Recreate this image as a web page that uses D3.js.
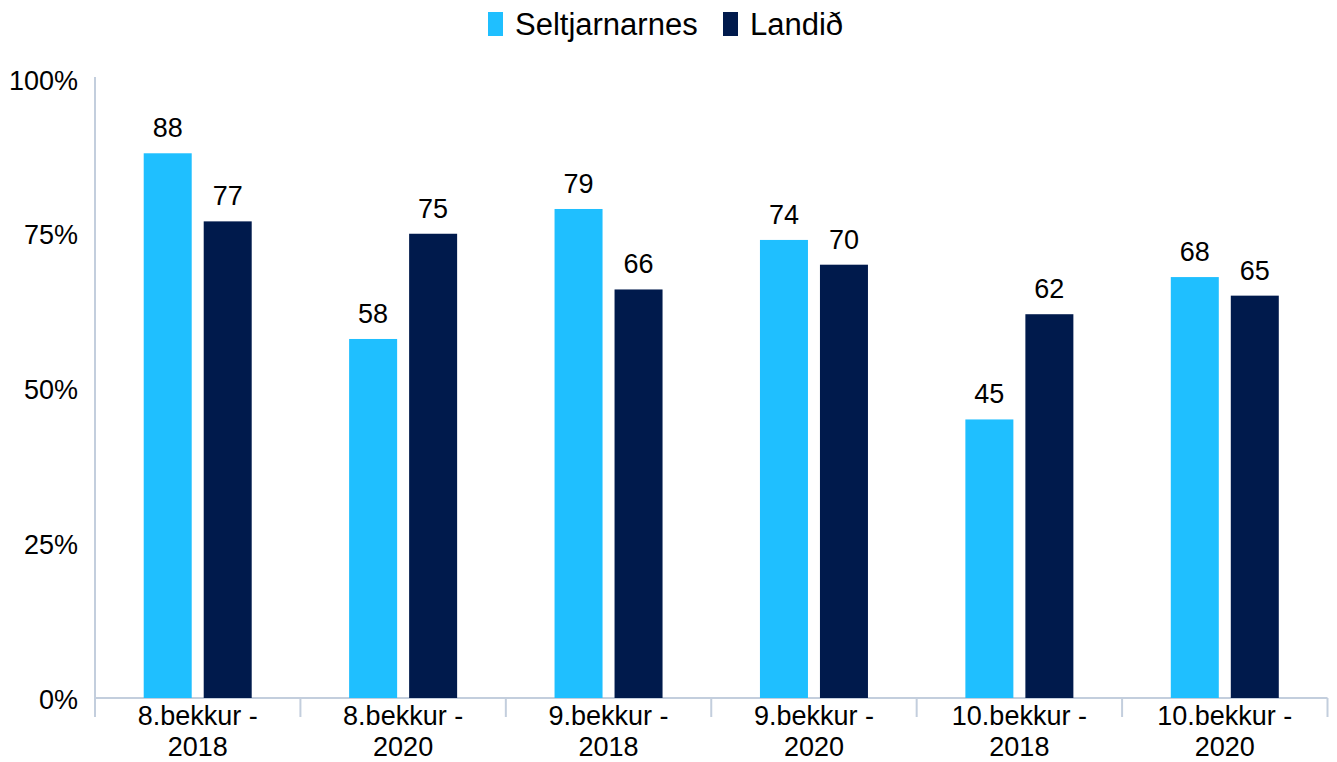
<!DOCTYPE html>
<html><head><meta charset="utf-8">
<script src="https://cdn.jsdelivr.net/npm/d3@7"></script>
<style>body{margin:0;background:#fff;}svg{display:block;font-family:"Liberation Sans",Arial,sans-serif;}</style>
</head><body>
<svg id="c" width="1337" height="762"></svg>
<script>
const categories = [["8.bekkur -","2018"],["8.bekkur -","2020"],["9.bekkur -","2018"],["9.bekkur -","2020"],["10.bekkur -","2018"],["10.bekkur -","2020"]];
const seriesNames = ["Seltjarnarnes","Landið"];
const seltjarnarnes = [88,58,79,74,45,68];
const landid = [77,75,66,70,62,65];
const yTicks = [0,25,50,75,100];
const colors = ["#1FBFFF","#001A4C"];

(function(){
const svg = d3.select("#c");
const mLeft = 95, mRight = 1327.5, mTop = 79, mBottom = 698;
const x = d3.scaleBand().domain(d3.range(categories.length)).range([mLeft, mRight]).padding(0);
const y = d3.scaleLinear().domain([0,100]).range([mBottom, mTop]);
const bw = 48, gap = 12;
const axisColor = "#C3CEDD";

svg.append("line").attr("x1",mLeft).attr("x2",mLeft).attr("y1",77).attr("y2",717).attr("stroke",axisColor).attr("stroke-width",2);
svg.append("line").attr("x1",mLeft).attr("x2",mRight).attr("y1",mBottom).attr("y2",mBottom).attr("stroke",axisColor).attr("stroke-width",2);
d3.range(categories.length+1).forEach(i=>{
  const xx = i<categories.length ? x(i) : mRight;
  svg.append("line").attr("x1",xx).attr("x2",xx).attr("y1",mBottom).attr("y2",717).attr("stroke",axisColor).attr("stroke-width",2);
});
svg.selectAll(".yl").data(yTicks).enter().append("text")
  .attr("x",78).attr("y",d=>y(d)+10.5).attr("text-anchor","end")
  .attr("font-size",27).attr("fill","#000").text(d=>d+"%");

const series = [seltjarnarnes, landid];
series.forEach((vals, s)=>{
  const off = s===0 ? -gap/2-bw : gap/2;
  const g = svg.append("g");
  g.selectAll("rect").data(vals).enter().append("rect")
    .attr("x",(d,i)=>x(i)+x.bandwidth()/2+off)
    .attr("y",d=>y(d)).attr("width",bw).attr("height",d=>mBottom-y(d))
    .attr("fill",colors[s]);
  g.selectAll("text").data(vals).enter().append("text")
    .attr("x",(d,i)=>x(i)+x.bandwidth()/2+off+bw/2)
    .attr("y",d=>y(d)-16).attr("text-anchor","middle")
    .attr("font-size",27).attr("fill","#000").text(d=>d);
});

categories.forEach((lines,i)=>{
  lines.forEach((t,j)=>{
    svg.append("text").attr("x",x(i)+x.bandwidth()/2).attr("y",725+j*31)
      .attr("text-anchor","middle").attr("font-size",27).attr("fill","#000").text(t);
  });
});

const legendX = [488, 723];
seriesNames.forEach((n,i)=>{
  svg.append("rect").attr("x",legendX[i]).attr("y",12).attr("width",15).attr("height",24).attr("fill",colors[i]);
  svg.append("text").attr("x",legendX[i]+27).attr("y",35).attr("font-size",31).attr("fill","#000").text(n);
});
})();
</script>
</body></html>
